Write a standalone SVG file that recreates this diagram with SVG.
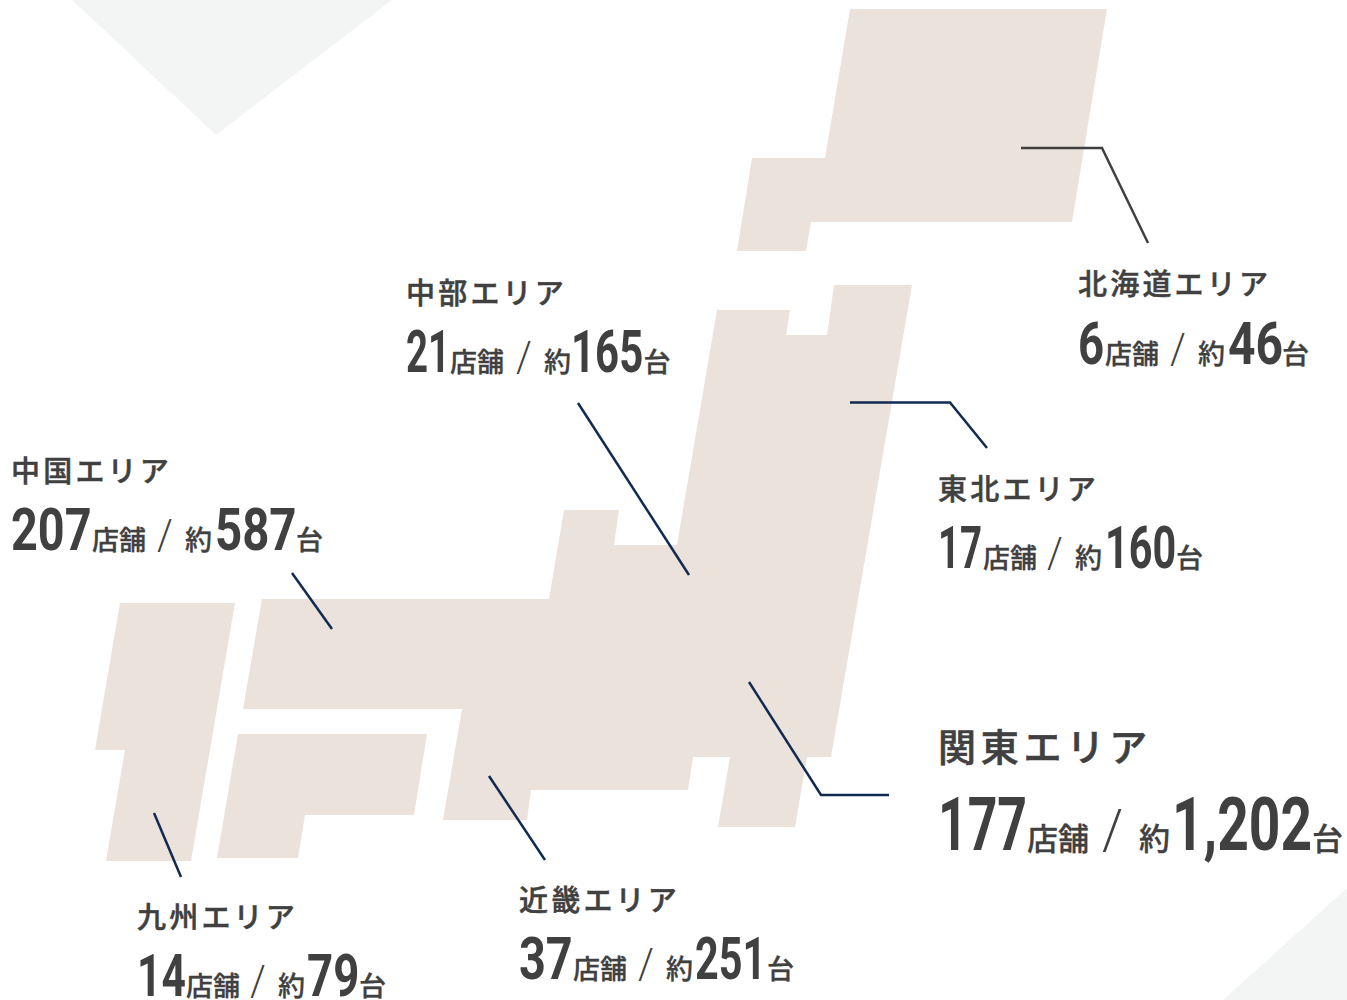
<svg xmlns="http://www.w3.org/2000/svg" width="1347" height="1000" viewBox="0 0 1347 1000">
<style>
text{fill:#404040}
.l{font-family:"Noto Sans CJK JP",sans-serif;font-weight:500;font-size:29px;letter-spacing:3.2px;stroke:#404040;stroke-width:.5px}
.lb{font-family:"Noto Sans CJK JP",sans-serif;font-weight:500;font-size:38px;letter-spacing:4.8px;stroke:#404040;stroke-width:.6px}
.n{font-family:Roboto,sans-serif;font-weight:700;font-size:60px}
.nb{font-family:Roboto,sans-serif;font-weight:700;font-size:75px}
.s{font-family:"Noto Sans CJK JP",sans-serif;font-weight:500;font-size:27px;stroke:#404040;stroke-width:.3px}
.sb{font-family:"Noto Sans CJK JP",sans-serif;font-weight:500;font-size:31px;stroke:#404040;stroke-width:.3px}
.sl{font-family:Roboto,sans-serif;font-weight:300;font-size:42px}
.slb{font-family:Roboto,sans-serif;font-weight:300;font-size:56px}
.land{fill:#eae2db}
.bg{fill:#f3f5f4}
.c{fill:none;stroke-width:2.5}
.navy{stroke:#112a52}
.dark{stroke:#404040}
</style>
<polygon class="bg" points="72,0 392,0 216,135"/>
<polygon class="bg" points="1347,888 1347,1000 1223,1000"/>
<g id="map">
<polygon class="land" points="850,9 1107,9 1072,222 811,222 806,251 737,251 752,158 825,158"/>
<polygon class="land" points="717,310 790,310 786,335 827,335 834,285 912,285 831,757 807,757 795,827 718,827 730,757 693,757 688,790 531,790 527,820 443,820 462,709 243,709 262,599 549,599 564,510 619,510 614,545 677,545"/>
<polygon class="land" points="120,603 235,603 191,861 106,861 125,750 95,750"/>
<polygon class="land" points="238,734 427,734 414,815 305,815 298,858 217,858"/>
</g>
<g id="connectors">
<polyline class="c dark" points="1021,148 1102,148 1148,243"/>
<polyline class="c navy" points="850,402.500 950,402.500 987,448"/>
<polyline class="c navy" points="578,403 689,575"/>
<polyline class="c navy" points="292,573 332,629"/>
<polyline class="c navy" points="749,682 821,795 889,795"/>
<polyline class="c navy" points="489,776 545,860"/>
<polyline class="c navy" points="154,813 181,877"/>
</g>
<g id="hokkaido">
<text class="l" x="1078" y="295">北海道エリア</text>
<text class="n" transform="translate(1078 364) scale(.76 1)">6</text>
<text class="s" x="1105" y="364">店舗</text>
<text class="sl" transform="translate(1170 363) scale(.95 1)">/</text>
<text class="s" x="1198" y="364">約</text>
<text class="n" transform="translate(1228 364) scale(.8 1)">46</text>
<text class="s" x="1282" y="364">台</text>
</g>
<g id="tohoku">
<text class="l" x="938" y="500">東北エリア</text>
<text class="n" transform="translate(938 568) scale(.64 1)">17</text>
<text class="s" x="983" y="568">店舗</text>
<text class="sl" transform="translate(1047 567) scale(.95 1)">/</text>
<text class="s" x="1075" y="568">約</text>
<text class="n" transform="translate(1105 568) scale(.69 1)">160</text>
<text class="s" x="1176" y="568">台</text>
</g>
<g id="chubu">
<text class="l" x="406" y="304">中部エリア</text>
<text class="n" transform="translate(406 372) scale(.64 1)">21</text>
<text class="s" x="450" y="372">店舗</text>
<text class="sl" transform="translate(516 371) scale(.95 1)">/</text>
<text class="s" x="544" y="372">約</text>
<text class="n" transform="translate(571 372) scale(.7 1)">165</text>
<text class="s" x="643.500" y="372">台</text>
</g>
<g id="chugoku">
<text class="l" x="11" y="482">中国エリア</text>
<text class="n" transform="translate(11 550) scale(.78 1)">207</text>
<text class="s" x="92" y="550">店舗</text>
<text class="sl" transform="translate(157 549) scale(.95 1)">/</text>
<text class="s" x="185" y="550">約</text>
<text class="n" transform="translate(215 550) scale(.79 1)">587</text>
<text class="s" x="296" y="550">台</text>
</g>
<g id="kanto">
<text class="lb" x="938" y="761">関東エリア</text>
<text class="nb" transform="translate(938 850) scale(.69 1)">177</text>
<text class="sb" x="1027" y="850">店舗</text>
<text class="slb" transform="translate(1102 849) scale(.95 1)">/</text>
<text class="sb" x="1139" y="850">約</text>
<text class="nb" transform="translate(1172 850) scale(.735 1)">1,202</text>
<text class="sb" x="1312" y="850">台</text>
</g>
<g id="kinki">
<text class="l" x="519" y="911">近畿エリア</text>
<text class="n" transform="translate(519 979) scale(.78 1)">37</text>
<text class="s" x="573" y="979">店舗</text>
<text class="sl" transform="translate(638 978) scale(.95 1)">/</text>
<text class="s" x="666" y="979">約</text>
<text class="n" transform="translate(695 979) scale(.69 1)">251</text>
<text class="s" x="767" y="979">台</text>
</g>
<g id="kyushu">
<text class="l" x="137" y="928">九州エリア</text>
<text class="n" transform="translate(137 996) scale(.71 1)">14</text>
<text class="s" x="186" y="996">店舗</text>
<text class="sl" transform="translate(250 995) scale(.95 1)">/</text>
<text class="s" x="278" y="996">約</text>
<text class="n" transform="translate(307 996) scale(.76 1)">79</text>
<text class="s" x="359" y="996">台</text>
</g>
</svg>
